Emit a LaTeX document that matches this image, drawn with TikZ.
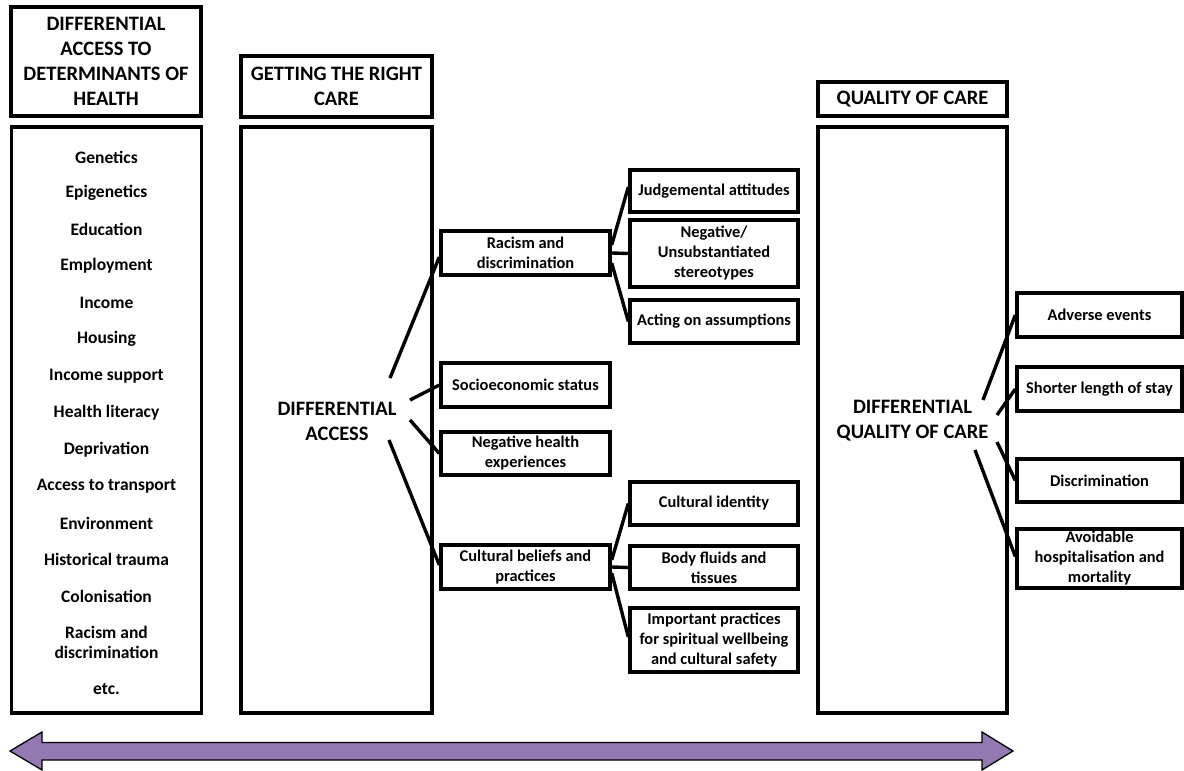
\documentclass[tikz,border=0pt]{standalone}
\usepackage{fontspec}
\setmainfont{Carlito}
\definecolor{arrowpurple}{RGB}{147,121,177}
\begin{document}
\begin{tikzpicture}[x=1pt,y=-1pt,
  frame/.style={draw, line width=3.4pt, inner sep=0pt, align=center},
  hdr/.style={font=\bfseries\fontsize{20.5}{25}\selectfont, align=center, inner sep=0pt},
  sbox/.style={frame, font=\bfseries\fontsize{16.4}{20}\selectfont},
  item/.style={font=\bfseries\fontsize{17.5}{20}\selectfont, align=center, inner sep=0pt},
  link/.style={line width=3.4pt}]
\useasboundingbox (0,0) rectangle (1184,771);

% headers
\node[frame, hdr, minimum width=190pt, minimum height=109pt] (h1) at (106,61.5) {DIFFERENTIAL\\ACCESS TO\\DETERMINANTS OF\\HEALTH};
\node[frame, hdr, minimum width=191pt, minimum height=61pt] (h2) at (336.5,86.5) {GETTING THE RIGHT\\CARE};
\node[frame, hdr, minimum width=189pt, minimum height=34pt] (h3) at (912.5,99) {QUALITY OF CARE};

% columns
\node[frame, minimum width=190pt, minimum height=586pt] (c1) at (106.5,420) {};
\node[frame, minimum width=191pt, minimum height=586pt] (c2) at (336.5,420) {};
\node[frame, minimum width=189pt, minimum height=586pt] (c3) at (912.5,420) {};

% left list
\node[item] (l1) at (106.5,157) {Genetics};
\node[item] (l2) at (106.5,193) {Epigenetics};
\node[item] (l3) at (106.5,229) {Education};
\node[item] (l4) at (106.5,266) {Employment};
\node[item] (l5) at (106.5,303) {Income};
\node[item] (l6) at (106.5,339) {Housing};
\node[item] (l7) at (106.5,376) {Income support};
\node[item] (l8) at (106.5,413) {Health literacy};
\node[item] (l9) at (106.5,450) {Deprivation};
\node[item] (l10) at (106.5,486) {Access to transport};
\node[item] (l11) at (106.5,523) {Environment};
\node[item] (l12) at (106.5,559) {Historical trauma};
\node[item] (l13) at (106.5,596) {Colonisation};
\node[item] (l14) at (106.5,642.5) {Racism and\\discrimination};
\node[item] (l15) at (106.5,689) {etc.};

% centre texts
\node[hdr] (dacc) at (337,421) {DIFFERENTIAL\\ACCESS};
\node[hdr] (dqoc) at (912.5,420.5) {DIFFERENTIAL\\QUALITY OF CARE};

% middle boxes
\node[sbox, minimum width=169pt, minimum height=44pt] (rac) at (525.5,253) {Racism and\\discrimination};
\node[sbox, minimum width=169pt, minimum height=44pt] (ses) at (525.5,385) {Socioeconomic status};
\node[sbox, minimum width=169pt, minimum height=43pt] (nhe) at (525.5,453.5) {Negative health\\experiences};
\node[sbox, minimum width=169pt, minimum height=44pt] (cbp) at (525.5,567) {Cultural beliefs and\\practices};

\node[sbox, minimum width=168pt, minimum height=42pt] (jud) at (714,191) {Judgemental attitudes};
\node[sbox, minimum width=168pt, minimum height=67pt] (neg) at (714,253.5) {Negative/\\Unsubstantiated\\stereotypes};
\node[sbox, minimum width=168pt, minimum height=43pt] (act) at (714,321.5) {Acting on assumptions};
\node[sbox, minimum width=168pt, minimum height=43pt] (cid) at (714,503.5) {Cultural identity};
\node[sbox, minimum width=168pt, minimum height=43pt] (bft) at (714,567.5) {Body fluids and\\tissues};
\node[sbox, minimum width=168pt, minimum height=64pt] (imp) at (714,640) {Important practices\\for spiritual wellbeing\\and cultural safety};

% right boxes
\node[sbox, minimum width=165pt, minimum height=44pt] (adv) at (1099.5,315) {Adverse events};
\node[sbox, minimum width=165pt, minimum height=44pt] (sls) at (1099.5,389) {Shorter length of stay};
\node[sbox, minimum width=165pt, minimum height=43pt] (dis) at (1099.5,480.5) {Discrimination};
\node[sbox, minimum width=165pt, minimum height=59pt] (avo) at (1099.5,558.5) {Avoidable\\hospitalisation and\\mortality};

% connector start points
\coordinate (da1) at (390,378);
\coordinate (da2) at (410,400);
\coordinate (da3) at (410,420);
\coordinate (da4) at (389,440);
\coordinate (dq1) at (983,400);
\coordinate (dq2) at (997,415);
\coordinate (dq3) at (997,442);
\coordinate (dq4) at (975,450);

\draw[link] (da1) -- ([yshift=-4pt]rac.west);
\draw[link] (da2) -- (ses.west);
\draw[link] (da3) -- (nhe.west);
\draw[link] (da4) -- ([yshift=2pt]cbp.west);

\draw[link] ([yshift=8pt]rac.east) -- ([yshift=4pt]jud.west);
\draw[link] (rac.east) -- (neg.west);
\draw[link] ([yshift=-10pt]rac.east) -- (act.west);
\draw[link] ([yshift=7pt]cbp.east) -- (cid.west);
\draw[link] (cbp.east) -- (bft.west);
\draw[link] ([yshift=-6pt]cbp.east) -- ([yshift=3pt]imp.west);

\draw[link] (dq1) -- (adv.west);
\draw[link] (dq2) -- (sls.west);
\draw[link] (dq3) -- (dis.west);
\draw[link] (dq4) -- ([yshift=2pt]avo.west);

% bottom double arrow
\draw[line width=1.3pt, fill=arrowpurple, line join=miter]
  (10,751) -- (42,732) -- (42,742.5) -- (982,742.5) -- (982,732) -- (1013,751)
  -- (982,770) -- (982,760) -- (42,760) -- (42,770) -- cycle;
\end{tikzpicture}
\end{document}
